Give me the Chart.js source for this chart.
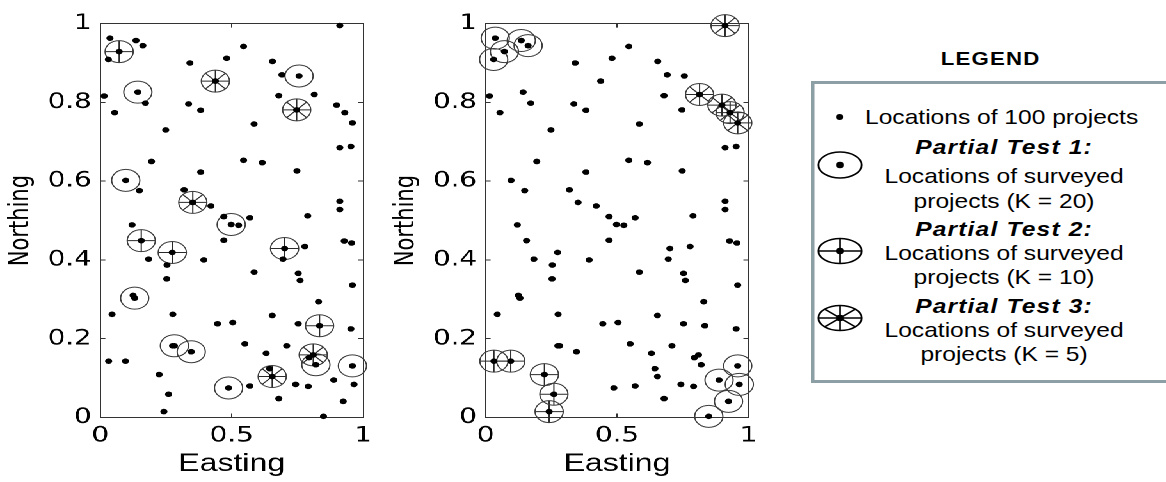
<!DOCTYPE html>
<html><head><meta charset="utf-8">
<script src="https://cdn.jsdelivr.net/npm/chart.js@4.4.1/dist/chart.umd.min.js"></script>
<style>
html,body{margin:0;padding:0;background:#fff;overflow:hidden;width:1166px;height:482px;}
#plots{position:absolute;left:0;top:0;width:602px;height:482px;transform:scaleX(1.28);transform-origin:0 0;}
#plots canvas{position:absolute;top:0;width:300px;height:482px;}
#legend{position:absolute;left:811px;top:0;width:320px;height:482px;transform:scaleX(1.17);transform-origin:0 0;font-family:'Liberation Sans',Arial,sans-serif;color:#000;}
.t{position:absolute;white-space:nowrap;line-height:1;}
.reg{font-size:21px;}
.hd{font-size:21px;font-weight:bold;font-style:italic;letter-spacing:1px;}
.blk{left:45px;width:240px;text-align:center;}
#box{position:absolute;left:0;top:81px;width:330px;height:302px;border:3px solid #8c9fa5;box-sizing:border-box;}
svg{position:absolute;left:0;overflow:visible;}
</style></head>
<body>
<div id="plots">
  <canvas id="c1" width="300" height="482" style="left:0px"></canvas>
  <canvas id="c2" width="300" height="482" style="left:300.5px"></canvas>
</div>
<div id="legend">
  <div class="t" style="left:0;width:307px;text-align:center;top:49.2px;font-size:19px;font-weight:bold;letter-spacing:1px;">LEGEND</div>
  <div id="box"></div>
  <svg width="50" height="20" style="top:106.7px"><circle cx="24.5" cy="10" r="3" fill="#000"/></svg>
  <div class="t reg" style="left:46.2px;top:105.8px;">Locations of 100 projects</div>

  <svg width="50" height="32" style="top:149px"><ellipse cx="24.8" cy="16" rx="18.5" ry="13" fill="none" stroke="#000" stroke-width="1.6"/><circle cx="24.8" cy="16" r="3.3" fill="#000"/></svg>
  <div class="t hd blk" style="top:135.5px;">Partial Test 1:</div>
  <div class="t reg blk" style="top:165.3px;">Locations of surveyed</div>
  <div class="t reg blk" style="top:189.8px;">projects (K = 20)</div>

  <svg width="50" height="32" style="top:234.5px"><ellipse cx="24.8" cy="16" rx="18.5" ry="12.5" fill="none" stroke="#000" stroke-width="1.6"/><line x1="6.3" y1="16" x2="43.3" y2="16" stroke="#000" stroke-width="1.4"/><line x1="24.8" y1="3.5" x2="24.8" y2="28.5" stroke="#000" stroke-width="1.4"/><circle cx="24.8" cy="16" r="3.3" fill="#000"/></svg>
  <div class="t hd blk" style="top:218px;">Partial Test 2:</div>
  <div class="t reg blk" style="top:242.3px;">Locations of surveyed</div>
  <div class="t reg blk" style="top:266.3px;">projects (K = 10)</div>

  <svg width="50" height="32" style="top:301.5px"><ellipse cx="24.8" cy="16" rx="18.5" ry="12.5" fill="none" stroke="#000" stroke-width="1.6"/><line x1="6.3" y1="16" x2="43.3" y2="16" stroke="#000" stroke-width="1.4"/><line x1="24.8" y1="3.5" x2="24.8" y2="28.5" stroke="#000" stroke-width="1.4"/><line x1="11.7" y1="7.2" x2="37.9" y2="24.8" stroke="#000" stroke-width="1.4"/><line x1="11.7" y1="24.8" x2="37.9" y2="7.2" stroke="#000" stroke-width="1.4"/><circle cx="24.8" cy="16" r="3.3" fill="#000"/></svg>
  <div class="t hd blk" style="top:294.5px;">Partial Test 3:</div>
  <div class="t reg blk" style="top:319.3px;">Locations of surveyed</div>
  <div class="t reg blk" style="top:343.3px;">projects (K = 5)</div>
</div>
<script>
// Locations of the 100 projects (same set in both panels)
const easting = [
  0.911, 0.037, 0.072, 0.031, 0.136, 0.162, 0.545, 0.341, 0.481, 0.655,
  0.438, 0.756, 0.691, 0.143, 0.015, 0.679, 0.814, 0.172, 0.336, 0.055,
  0.382, 0.747, 0.899, 0.930, 0.959, 0.585, 0.249, 0.911, 0.953, 0.195,
  0.545, 0.616, 0.382, 0.748, 0.097, 0.149, 0.319, 0.352, 0.421, 0.911,
  0.911, 0.789, 0.470, 0.498, 0.526, 0.569, 0.121, 0.470, 0.928, 0.956,
  0.156, 0.274, 0.184, 0.394, 0.254, 0.701, 0.695, 0.778, 0.585, 0.753,
  0.760, 0.253, 0.959, 0.125, 0.131, 0.830, 0.045, 0.276, 0.654, 0.446,
  0.504, 0.753, 0.834, 0.953, 0.550, 0.275, 0.282, 0.346, 0.631, 0.709,
  0.032, 0.096, 0.810, 0.794, 0.820, 0.959, 0.644, 0.654, 0.224, 0.888,
  0.743, 0.791, 0.569, 0.965, 0.488, 0.260, 0.679, 0.924, 0.242, 0.849
];
const northing = [
  0.995, 0.963, 0.929, 0.909, 0.957, 0.944, 0.942, 0.900, 0.912, 0.904,
  0.854, 0.867, 0.870, 0.826, 0.816, 0.817, 0.820, 0.798, 0.796, 0.774,
  0.780, 0.781, 0.793, 0.774, 0.748, 0.745, 0.730, 0.685, 0.688, 0.650,
  0.653, 0.647, 0.623, 0.626, 0.602, 0.576, 0.578, 0.546, 0.537, 0.549,
  0.528, 0.512, 0.510, 0.490, 0.488, 0.507, 0.489, 0.450, 0.448, 0.443,
  0.449, 0.419, 0.402, 0.400, 0.387, 0.429, 0.402, 0.434, 0.369, 0.366,
  0.348, 0.352, 0.336, 0.310, 0.303, 0.294, 0.262, 0.262, 0.259, 0.238,
  0.241, 0.238, 0.233, 0.225, 0.187, 0.182, 0.182, 0.167, 0.163, 0.182,
  0.143, 0.143, 0.159, 0.152, 0.134, 0.131, 0.124, 0.104, 0.109, 0.095,
  0.084, 0.079, 0.080, 0.084, 0.075, 0.059, 0.048, 0.041, 0.015, 0.003
];
// Surveyed projects (indices into the arrays above)
const leftTest3 = [10, 21, 37, 82, 87];
const leftTest2 = [2, 50, 51, 55, 72].concat(leftTest3);
const leftTest1 = [11, 13, 34, 43, 64, 76, 77, 84, 85, 94].concat(leftTest2);
const rightTest3 = [0, 16, 22, 23, 24];
const rightTest2 = [80, 81, 88, 95, 98].concat(rightTest3);
const rightTest1 = [1, 2, 3, 4, 5, 85, 89, 93, 97, 99].concat(rightTest2);

const xTickValues = [0, 0.5, 1];
const xTickLabels = ['0', '0.5', '1'];
const yTickValues = [0, 0.2, 0.4, 0.6, 0.8, 1];
const yTickLabels = ['0', '0.2', '0.4', '0.6', '0.8', '1'];

const FONT = "'Liberation Sans', Arial, sans-serif";
const TICKFONT = "'DejaVu Sans', 'Liberation Sans', sans-serif";
const EDGE = '#333';

function pts(idx) { return idx.map(i => ({x: easting[i], y: northing[i]})); }
const allPts = easting.map((e, i) => ({x: e, y: northing[i]}));

function axis(pos, values, labels, showLabels, fitSize, title, titlePad, tickPad) {
  const horiz = (pos === 'top' || pos === 'bottom');
  return {
    type: 'linear', position: pos, min: 0, max: 1,
    afterBuildTicks: s => { s.ticks = values.map(v => ({value: v})); },
    ticks: {
      display: showLabels, autoSkip: false, maxRotation: 0, minRotation: 0,
      color: '#000', font: {family: TICKFONT, size: 21.5}, padding: tickPad,
      callback: (v) => labels[values.indexOf(v)]
    },
    grid: {drawOnChartArea: false, drawTicks: true, tickLength: -4, color: EDGE, lineWidth: 1},
    border: {display: true, color: EDGE, width: 1},
    title: title ? {display: true, text: title, color: '#000',
      font: horiz ? {family: FONT, size: 25} : {family: TICKFONT, size: 21}, padding: titlePad} : {display: false},
    afterFit: s => { if (horiz) s.height = fitSize; else s.width = fitSize; }
  };
}

function makeChart(id, t1, t2, t3) {
  new Chart(document.getElementById(id), {
    type: 'scatter',
    data: {datasets: [
      {label: 'Locations of 100 projects', data: allPts, pointStyle: 'circle', pointRadius: 2.8,
       pointBorderWidth: 0, backgroundColor: '#000', borderColor: '#000', clip: false},
      {label: 'Partial Test 1', data: pts(t1), pointStyle: 'circle', pointRadius: 11,
       pointBorderWidth: 1, borderColor: '#3c3c3c', backgroundColor: 'rgba(0,0,0,0)', clip: false},
      {label: 'Partial Test 2', data: pts(t2), pointStyle: 'cross', pointRadius: 11,
       pointBorderWidth: 1, borderColor: '#2a2a2a', backgroundColor: 'rgba(0,0,0,0)', clip: false},
      {label: 'Partial Test 3', data: pts(t3), pointStyle: 'crossRot', pointRadius: 11,
       pointBorderWidth: 1, borderColor: '#2a2a2a', backgroundColor: 'rgba(0,0,0,0)', clip: false}
    ]},
    options: {
      responsive: false, animation: false, devicePixelRatio: 2, events: [],
      layout: {padding: 0},
      plugins: {legend: {display: false}, tooltip: {enabled: false}},
      scales: {
        x: axis('bottom', xTickValues, xTickLabels, true, 64.5, 'Easting', {top: 0, bottom: 3}, 9.4),
        x2: axis('top', xTickValues, xTickLabels, false, 15.3, null, 0, 0),
        y: axis('left', yTickValues, yTickLabels, true, 78.3, 'Northing', {top: 4, bottom: 0}, 10.7),
        y2: axis('right', yTickValues, yTickLabels, false, 12.9, null, 0, 0)
      }
    }
  });
}
makeChart('c1', leftTest1, leftTest2, leftTest3);
makeChart('c2', rightTest1, rightTest2, rightTest3);
</script>
</body></html>
